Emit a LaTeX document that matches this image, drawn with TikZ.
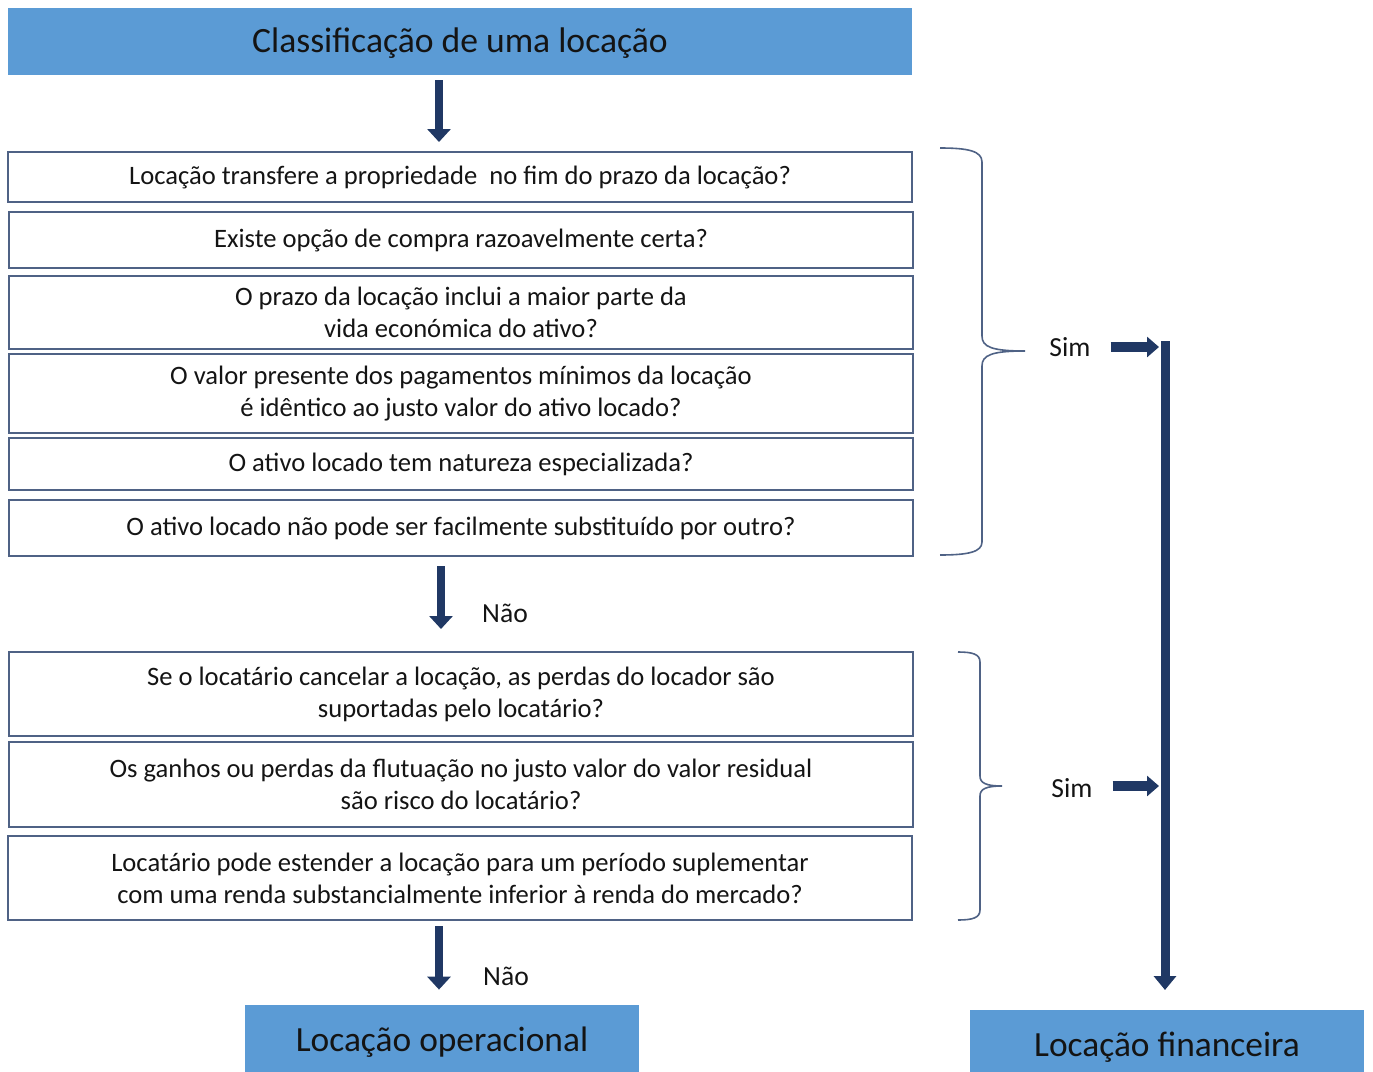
\documentclass[tikz,border=0pt]{standalone}
\usepackage{fontspec}
\setmainfont{Carlito}
\usetikzlibrary{arrows.meta}
\definecolor{headblue}{HTML}{5B9BD5}
\definecolor{navy}{HTML}{203864}
\definecolor{boxline}{HTML}{4F6285}
\definecolor{txt}{HTML}{141414}
\tikzset{
  qbox/.style={draw=boxline,line width=1pt,minimum width=452pt,align=center,
    inner sep=0pt,text=txt,font=\fontsize{13.3}{16}\selectfont},
  headbox/.style={fill=headblue,minimum width=452pt,minimum height=33.5pt,
    text=txt,font=\fontsize{17.8}{20}\selectfont},
  endbox/.style={fill=headblue,minimum width=197pt,minimum height=37.5pt,
    text=txt,font=\fontsize{17.7}{20}\selectfont},
  lbl/.style={text=txt,font=\fontsize{13.8}{16}\selectfont},
  downarrow/.style={navy,line width=3.8pt,-{Triangle[width=11.5pt,length=6.5pt]}},
  simarrow/.style={navy,line width=5pt,-{Triangle[width=10pt,length=6pt]}},
  curly/.style={boxline,line width=0.8pt}
}
\begin{document}
\begin{tikzpicture}[x=0.5pt,y=-0.5pt]
\useasboundingbox (0,0) rectangle (1373,1072);
\clip (0,0) rectangle (1373,1072);
\node (title) at (460,41.5) [headbox,text depth=1pt] {Classificação de uma locação};
% first group of questions
\node (q1) at (460,177) [qbox,minimum height=25pt] {Locação transfere a propriedade\ \ no fim do prazo da locação?};
\node (q2) at (461,240) [qbox,minimum height=28pt] {Existe opção de compra razoavelmente certa?};
\node (q3) at (461,312.5) [qbox,minimum height=36.5pt] {O prazo da locação inclui a maior parte da\\vida económica do ativo?};
\node (q4) at (461,393.5) [qbox,minimum height=39.5pt] {O valor presente dos pagamentos mínimos da locação\\é idêntico ao justo valor do ativo locado?};
\node (q5) at (461,464) [qbox,minimum height=26pt] {O ativo locado tem natureza especializada?};
\node (q6) at (461,528) [qbox,minimum height=28pt] {O ativo locado não pode ser facilmente substituído por outro?};
% second group
\node (q7) at (461,694) [qbox,minimum height=42pt] {Se o locatário cancelar a locação, as perdas do locador são\\suportadas pelo locatário?};
\node (q8) at (461,784.5) [qbox,minimum height=42.5pt] {Os ganhos ou perdas da flutuação no justo valor do valor residual\\são risco do locatário?};
\node (q9) at (460,878) [qbox,minimum height=42pt] {Locatário pode estender a locação para um período suplementar\\com uma renda substancialmente inferior à renda do mercado?};
\node (oper) at (442,1042.5) [endbox] {Locação operacional};
\node (fin) at (1167,1047.5) [endbox] {Locação financeira};
% down arrows
\draw[downarrow,shorten <=2.5pt,shorten >=4.5pt] ([xshift=-10.5pt]title.south) -- ([xshift=-10.5pt]q1.north);
\draw[downarrow,shorten <=4.5pt,shorten >=11pt] ([xshift=-10pt]q6.south) -- ([xshift=-10pt]q7.north);
\draw[downarrow,shorten <=2.5pt,shorten >=7.5pt] ([xshift=-1.5pt]oper.north |- q9.south) -- ([xshift=-1.5pt]oper.north);
\node (nao1) at (505,613) [lbl] {Não};
\node (nao2) at (506,976) [lbl] {Não};
% braces
\draw[curly] (940,148) .. controls (968,148) and (982,151) .. (982,162)
  -- (982,336) .. controls (982,347) and (992,351) .. (1025,351)
  .. controls (992,351) and (982,355) .. (982,366)
  -- (982,542) .. controls (982,552) and (968,555) .. (940,555);
\draw[curly] (958,652) .. controls (972,652) and (980,654) .. (980,662)
  -- (980,776) .. controls (980,783) and (986,786) .. (1002,786)
  .. controls (986,786) and (980,789) .. (980,796)
  -- (980,910) .. controls (980,918) and (972,920) .. (958,920);
\node (sim1) at (1070,347) [lbl] {Sim};
\node (sim2) at (1072,788) [lbl] {Sim};
% right column
\coordinate (top) at (1165,341);
\coordinate (bot) at (1165,990);
\draw[navy,line width=4.5pt,-{Triangle[width=11pt,length=7pt]}] (top) -- (bot);
\draw[simarrow,shorten <=6.5pt,shorten >=3pt] (sim1.east) -- (sim1.east -| top);
\draw[simarrow,shorten <=6.5pt,shorten >=3pt] ([yshift=1pt]sim2.east) -- ([yshift=1pt]sim2.east -| top);
\end{tikzpicture}
\end{document}
